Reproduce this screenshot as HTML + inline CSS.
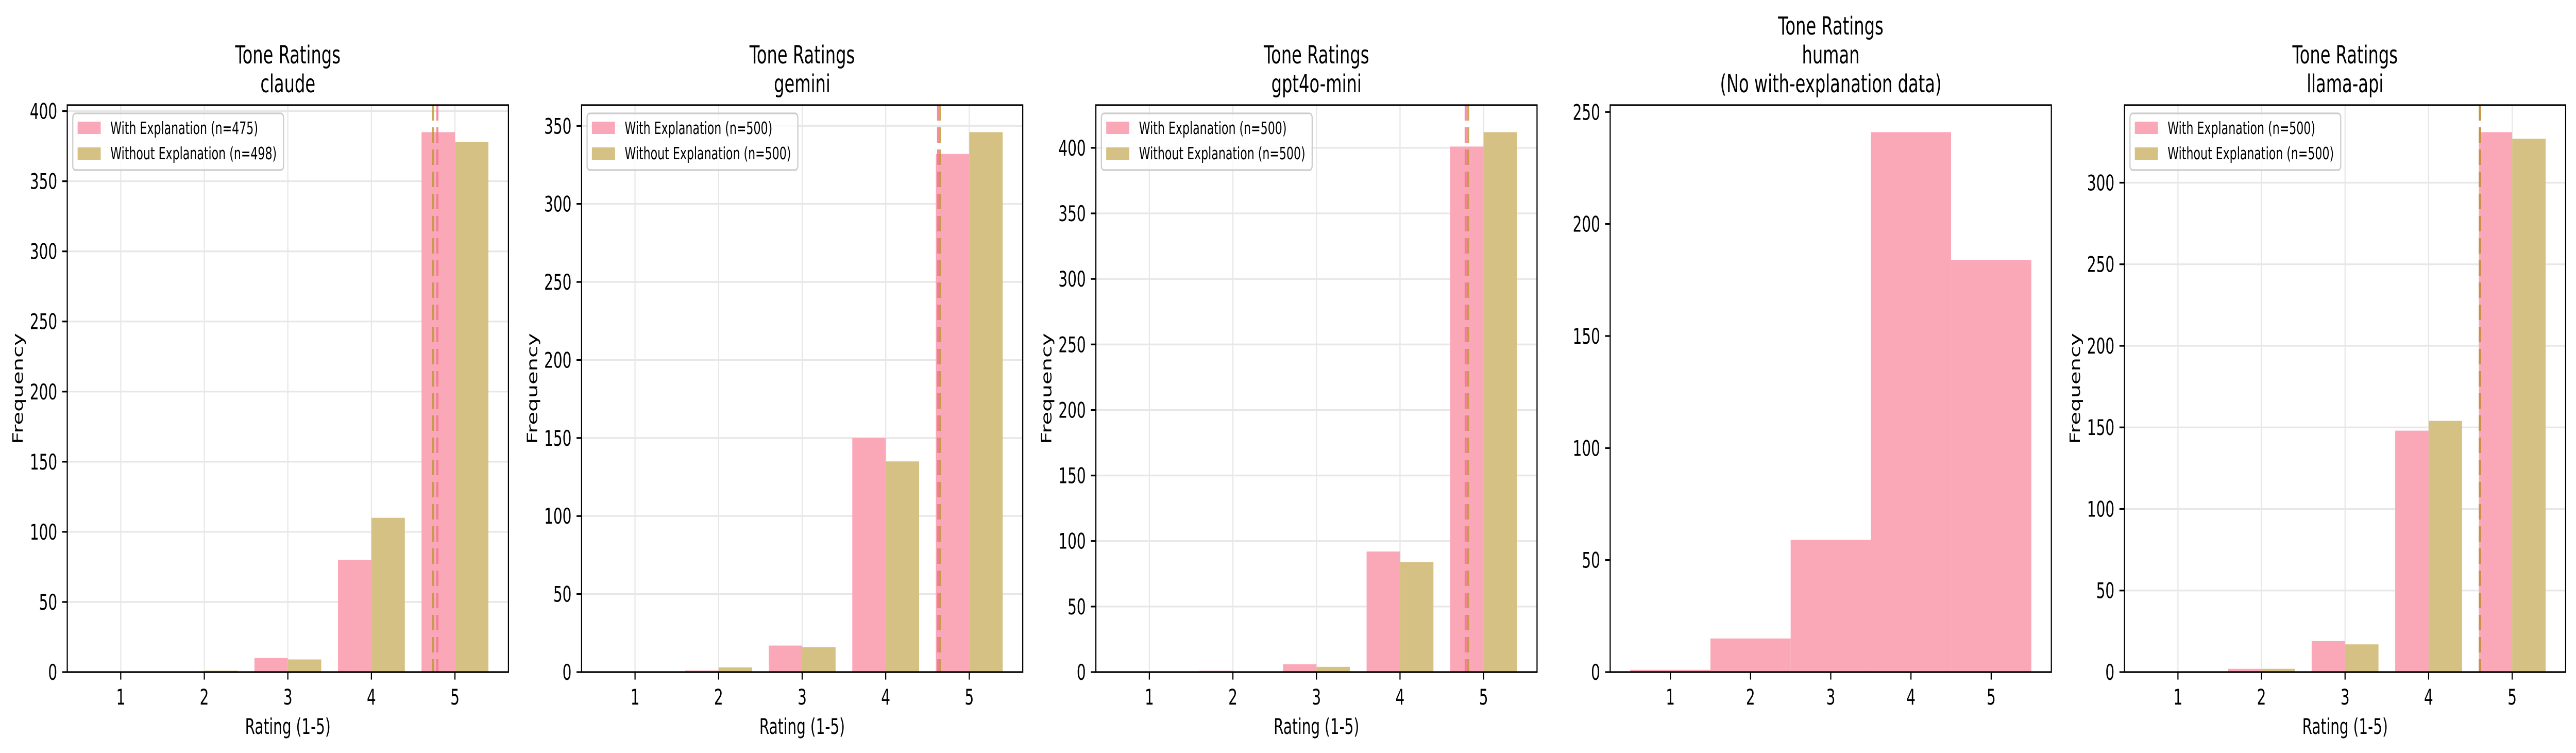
<!DOCTYPE html>
<html><head><meta charset="utf-8"><style>
html,body{margin:0;padding:0;background:#fff;overflow:hidden;width:100%;height:100%;}
svg{display:block;width:100vw;height:100vh;font-family:"DejaVu Sans","Liberation Sans",sans-serif;}
</style></head>
<body>
<svg id="fig" viewBox="0 0 7468 1461" preserveAspectRatio="none" xmlns="http://www.w3.org/2000/svg"></svg>
<script>
const ratings = [1, 2, 3, 4, 5];
const models = ["claude", "gemini", "gpt4o-mini", "human", "llama-api"];
const withClaude = [0, 0, 10, 80, 385];
const withoutClaude = [0, 1, 9, 110, 378];
const withGemini = [0, 1, 17, 150, 332];
const withoutGemini = [0, 3, 16, 135, 346];
const withGpt = [0, 1, 6, 92, 401];
const withoutGpt = [0, 0, 4, 84, 412];
const humanCounts = [1, 15, 59, 241, 184];
const withLlama = [0, 2, 19, 148, 331];
const withoutLlama = [0, 2, 17, 154, 327];
const withN = [475, 500, 500, null, 500];
const withoutN = [498, 500, 500, null, 500];
const yTicksClaude = [0, 50, 100, 150, 200, 250, 300, 350, 400];
const yTicksGemini = [0, 50, 100, 150, 200, 250, 300, 350];
const yTicksGpt = [0, 50, 100, 150, 200, 250, 300, 350, 400];
const yTicksHuman = [0, 50, 100, 150, 200, 250];
const yTicksLlama = [0, 50, 100, 150, 200, 250, 300];

const svg = document.getElementById('fig');
const NS = 'http://www.w3.org/2000/svg';
function mk(tag, attrs, parent) {
  const e = document.createElementNS(NS, tag);
  for (const k in attrs) e.setAttribute(k, attrs[k]);
  (parent || svg).appendChild(e);
  return e;
}
function txt(s, attrs, parent) { const t = mk('text', attrs, parent); t.textContent = s; return t; }
function mean(c) { let s = 0, n = 0; c.forEach((v, i) => { s += v * ratings[i]; n += v; }); return s / n; }

const AX_W = 1279, AX_TOP = 204, AX_BOT = 1304, AX_H = AX_BOT - AX_TOP;
const PINK = '#faa8b8', TAN = '#d6c184', PINK_LINE = '#f77189', TAN_LINE = '#bb9832';

const panels = [
  {w: withClaude, wo: withoutClaude, ticks: yTicksClaude},
  {w: withGemini, wo: withoutGemini, ticks: yTicksGemini},
  {w: withGpt, wo: withoutGpt, ticks: yTicksGpt},
  {h: humanCounts, ticks: yTicksHuman},
  {w: withLlama, wo: withoutLlama, ticks: yTicksLlama}
];

panels.forEach((p, pi) => {
  const L = 195 + pi * 1491;
  const g = mk('g', {});
  
  
  const isHuman = !!p.h;
  const maxV = isHuman ? Math.max(...p.h) : Math.max(...p.w, ...p.wo);
  const yMax = maxV * 1.05;
  const x0 = isHuman ? 0.25 : 0.36, x1 = isHuman ? 5.75 : 5.64;
  const X = v => L + (v - x0) / (x1 - x0) * AX_W;
  const Y = v => AX_BOT - v / yMax * AX_H;

  if (!isHuman) {
    ratings.forEach(r => {
      const gl = mk('line', {x1: X(r), x2: X(r), y1: AX_TOP, y2: AX_BOT, stroke: '#e7e7e7', 'stroke-width': 3.3}, g);
      
      
    });
    p.ticks.forEach(t => {
      const gl = mk('line', {x1: L, x2: L + AX_W, y1: Y(t), y2: Y(t), stroke: '#e7e7e7', 'stroke-width': 3.3}, g);
      
      
    });
  }
  if (isHuman) {
    p.h.forEach((v, i) => {
      const b = mk('rect', {x: X(ratings[i] - 0.5), y: Y(v), width: X(ratings[i] + 0.5) - X(ratings[i] - 0.5), height: AX_BOT - Y(v), fill: PINK}, g);
      
      
    });
  } else {
    p.w.forEach((v, i) => {
      const b = mk('rect', {x: X(ratings[i] - 0.4), y: Y(v), width: X(ratings[i]) - X(ratings[i] - 0.4), height: AX_BOT - Y(v), fill: PINK}, g);
      
      
    });
    p.wo.forEach((v, i) => {
      const b = mk('rect', {x: X(ratings[i]), y: Y(v), width: X(ratings[i] + 0.4) - X(ratings[i]), height: AX_BOT - Y(v), fill: TAN}, g);
      
      
    });
    const mw = mean(p.w), mwo = mean(p.wo);
    const l1 = mk('line', {x1: X(mw), x2: X(mw), y1: AX_TOP, y2: AX_BOT, stroke: PINK_LINE, 'stroke-width': 6, 'stroke-dasharray': '30 13', opacity: 0.8}, g);
    
    
    const l2 = mk('line', {x1: X(mwo), x2: X(mwo), y1: AX_TOP, y2: AX_BOT, stroke: TAN_LINE, 'stroke-width': 6, 'stroke-dasharray': '30 13', opacity: 0.8}, g);
    
    
  }
  const fr = mk('rect', {x: L, y: AX_TOP, width: AX_W, height: AX_H, fill: 'none', stroke: '#000', 'stroke-width': 3.3}, g);
  
  
  ratings.forEach(r => {
    const tk = mk('line', {x1: X(r), x2: X(r), y1: AX_BOT, y2: AX_BOT + 14.6, stroke: '#000', 'stroke-width': 3.3}, g);
    
    
    const tl = txt(String(r), {x: X(r), y: 1367, 'font-size': 41.7, 'text-anchor': 'middle'}, g);
    
    
  });
  p.ticks.forEach(t => {
    const tk = mk('line', {x1: L - 14.6, x2: L, y1: Y(t), y2: Y(t), stroke: '#000', 'stroke-width': 3.3}, g);
    
    
    const tl = txt(String(t), {x: L - 29, y: Y(t) + 15, 'font-size': 41.7, 'text-anchor': 'end'}, g);
    
    
  });
  const cx = L + AX_W / 2;
  const lines = isHuman ? ['Tone Ratings', 'human', '(No with-explanation data)'] : ['Tone Ratings', models[pi]];
  lines.forEach((s, i) => {
    const t = txt(s, {x: cx, y: 179 - (lines.length - 1 - i) * 56, 'font-size': 48, 'text-anchor': 'middle'}, g);
    
    
  });
  if (!isHuman) {
    const xl = txt('Rating (1-5)', {x: cx, y: 1424, 'font-size': 41.7, 'text-anchor': 'middle'}, g);
    
    
    const yl = txt('Frequency', {x: 0, y: 0, 'font-size': 41.7, 'text-anchor': 'middle', transform: 'translate(' + (L - 129) + ',' + (AX_TOP + AX_H / 2) + ') rotate(-90)'}, g);
    
    
    const lg = mk('g', {}, g);
    
    
    mk('rect', {x: L + 16, y: AX_TOP + 16, width: 611, height: 110, rx: 8, fill: '#fff', 'fill-opacity': 0.8, stroke: '#cccccc', 'stroke-width': 3.3}, lg);
    const s1 = mk('rect', {x: L + 30, y: AX_TOP + 32, width: 67, height: 24, fill: PINK}, lg);
    
    
    const t1 = txt('With Explanation (n=' + withN[pi] + ')', {x: L + 125, y: AX_TOP + 56, 'font-size': 33}, lg);
    
    
    const s2 = mk('rect', {x: L + 30, y: AX_TOP + 82, width: 67, height: 24, fill: TAN}, lg);
    
    
    const t2 = txt('Without Explanation (n=' + withoutN[pi] + ')', {x: L + 125, y: AX_TOP + 105, 'font-size': 33}, lg);
    
    
  }
});
</script>
</body></html>
